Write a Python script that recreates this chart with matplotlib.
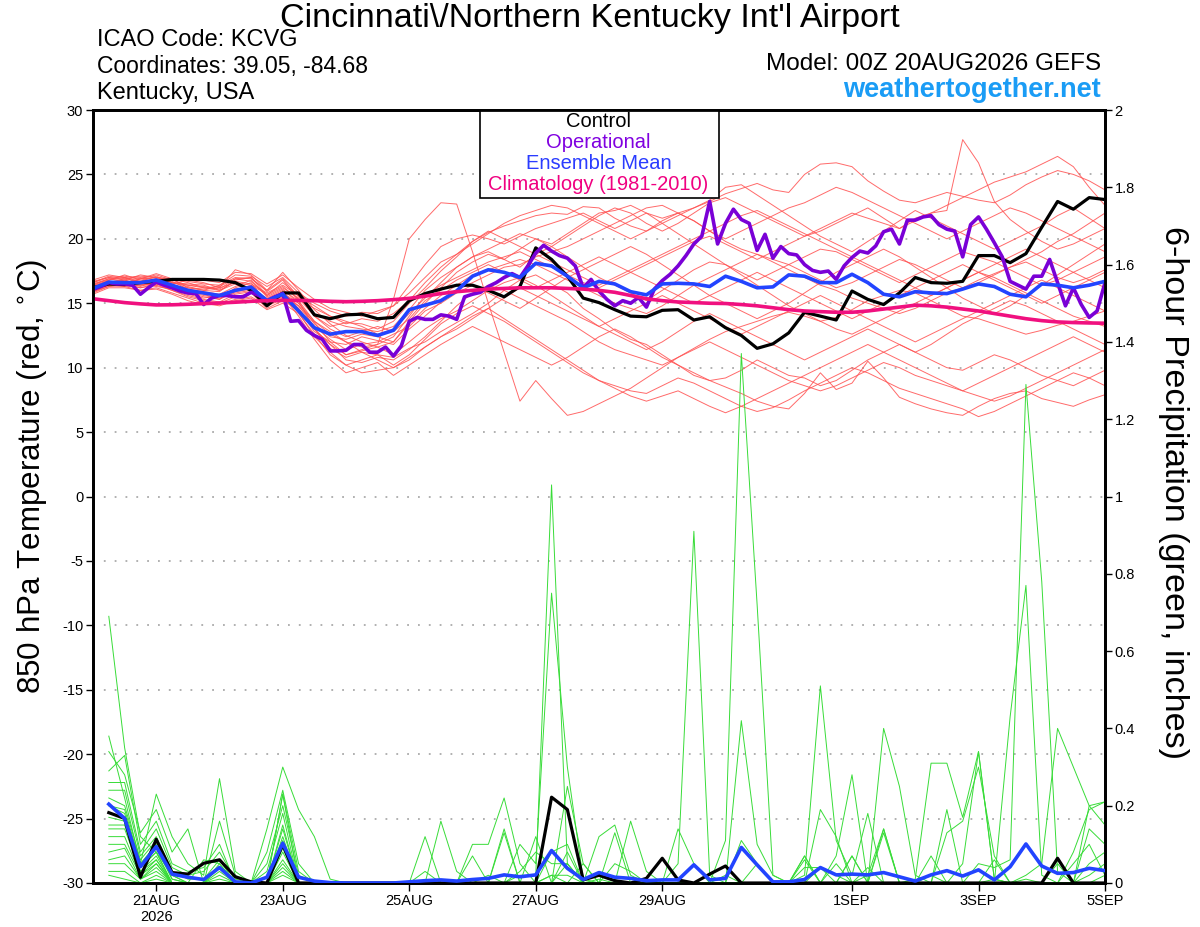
import pandas as pd
import matplotlib
matplotlib.use("Agg")
import matplotlib.pyplot as plt
from matplotlib.patches import Rectangle
from matplotlib.ticker import FuncFormatter

plt.rcParams['font.family'] = ['Liberation Sans', 'DejaVu Sans']
plt.rcParams['axes.unicode_minus'] = False

# forecast valid times: GEFS every 6h, operational every 3h, precip totals end at 06Z onward
times = pd.date_range('2026-08-20 00:00', periods=65, freq='6h')
times_oper = pd.date_range('2026-08-20 00:00', periods=129, freq='3h')
times_precip = times[1:]

tick_dates = pd.to_datetime(['2026-08-21', '2026-08-23', '2026-08-25', '2026-08-27',
                             '2026-08-29', '2026-09-01', '2026-09-03', '2026-09-05'])
tick_labels = ['21AUG\n2026', '23AUG', '25AUG', '27AUG', '29AUG', '1SEP', '3SEP', '5SEP']

# 850 hPa temperature (C)
control_temp = [16.2, 16.5, 16.45, 16.6, 16.7, 16.85, 16.85, 16.85, 16.8, 16.6, 16.0, 14.8, 15.8,
                15.8, 14.1, 13.8, 14.1, 14.15, 13.8, 13.9, 15.2,
                15.75, 16.1, 16.4, 16.4, 16.0, 15.5, 16.3, 19.3, 18.4, 17.1, 15.4, 15.05,
                14.5, 14.0, 13.95, 14.45, 14.5, 13.7, 13.95, 13.1, 12.5, 11.5, 11.85, 12.7,
                14.3, 14.0, 13.7, 15.95, 15.3, 14.9, 15.8, 17.0, 16.6, 16.55, 16.7, 18.7,
                18.7, 18.15, 18.85, 20.9, 22.9, 22.3, 23.2, 23.05]

mean_temp = [16.15, 16.64, 16.6, 16.6, 16.8, 16.4, 16.0, 15.8, 15.6, 16.0, 16.25, 15.2, 15.7,
             14.4, 13.1, 12.6, 12.8, 12.8, 12.5, 12.9, 14.5,
             14.85, 15.2, 15.96, 17.1, 17.6, 17.4, 17.0, 18.1, 17.9, 17.1, 16.2, 16.7,
             16.5, 15.9, 15.65, 16.5, 16.55, 16.5, 16.3, 17.1, 16.7, 16.2, 16.27, 17.2,
             17.1, 16.6, 16.6, 17.25, 16.6, 15.7, 15.5, 15.9, 15.8, 15.75, 16.1, 16.5,
             16.3, 15.7, 15.5, 16.5, 16.4, 16.2, 16.4, 16.7]

clim_temp = [15.35, 15.2, 15.05, 14.95, 14.87, 14.88, 14.92, 14.97, 15.02, 15.08, 15.15, 15.2, 15.22,
             15.22, 15.2, 15.15, 15.12, 15.15, 15.2, 15.28, 15.38,
             15.55, 15.75, 15.9, 16.0, 16.1, 16.15, 16.2, 16.2, 16.2, 16.15, 16.1, 16.0,
             15.85, 15.6, 15.35, 15.2, 15.1, 15.05, 15.0, 14.98, 14.9, 14.8, 14.65, 14.5,
             14.4, 14.35, 14.3, 14.3, 14.4, 14.55, 14.7, 14.85, 14.8, 14.7, 14.55, 14.4,
             14.2, 14.0, 13.8, 13.65, 13.55, 13.5, 13.47, 13.45]

oper_temp = [16.07, 16.3, 16.6, 16.5, 16.5, 16.4, 15.7, 16.2, 16.65, 16.4, 16.2, 15.95, 15.8,
             15.75, 14.9, 15.4, 15.6, 15.6, 15.5, 15.5, 15.85, 15.6, 15.2, 15.5, 15.75,
             13.6, 13.65, 12.9, 12.5, 12.2, 11.3, 11.3, 11.35, 11.8, 11.8, 11.2, 11.2,
             11.6, 10.9, 11.7, 13.6, 13.9, 13.75, 13.75, 14.1, 14.0, 13.75, 15.5, 15.7,
             15.85, 16.3, 16.6, 17.0, 17.3, 17.0, 17.9, 18.9, 19.5, 19.05, 18.7, 18.5,
             17.9, 16.2, 16.85, 15.95, 15.3, 14.8, 15.2, 15.0, 15.45, 14.7, 16.1, 16.75,
             17.25, 17.9, 18.7, 19.6, 20.2, 22.9, 19.6, 21.2, 22.3, 21.5, 21.2, 19.1,
             20.35, 18.5, 19.4, 18.85, 18.75, 18.0, 17.55, 17.4, 17.5, 16.85, 17.9, 18.55,
             19.05, 18.9, 19.45, 20.55, 20.75, 19.6, 21.45, 21.45, 21.7, 21.8, 21.1, 20.75,
             20.6, 18.6, 21.1, 21.7, 20.75, 19.7, 18.6, 16.7, 16.4, 16.1, 17.1, 17.1,
             18.4, 16.6, 14.8, 16.2, 14.9, 13.9, 14.4, 16.6]

member_temps = [
    [16.4, 16.9, 17.0, 16.7, 17.1, 16.6, 16.3, 16.0, 15.9, 16.8, 17.0, 15.6, 16.2,
     15.4, 14.0, 13.2, 13.5, 13.4, 13.0, 13.6, 15.0,
     16.2, 17.5, 18.6, 19.8, 20.5, 21.0, 21.4, 21.8, 22.0, 21.9, 22.5, 22.4,
     21.6, 21.0, 20.6, 21.2, 21.8, 22.4, 22.9, 23.5, 23.9, 24.3, 23.8, 23.6,
     25.0, 25.8, 25.9, 25.6, 24.5, 23.7, 23.0, 22.8, 23.2, 23.6, 23.3, 23.0,
     22.8, 23.4, 24.2, 24.8, 25.3, 25.0, 24.5, 23.8],
    [16.0, 16.5, 16.8, 16.4, 16.6, 16.2, 15.8, 15.5, 15.3, 16.2, 16.6, 15.0, 15.5,
     14.8, 13.5, 12.0, 11.0, 11.4, 11.8, 15.3, 20.0,
     21.5, 22.8, 22.7, 19.0, 15.0, 11.2, 7.4, 9.0, 7.6, 6.3, 6.6, 7.2,
     7.8, 8.4, 9.2, 10.0, 10.8, 11.5, 12.2, 12.8, 13.2, 13.6, 14.0, 14.3,
     14.0, 13.6, 13.9, 14.5, 15.2, 15.6, 16.0, 15.8, 15.2, 14.6, 14.0, 13.8,
     13.4, 13.0, 12.6, 12.9, 13.3, 13.6, 14.0, 14.4],
    [16.2, 16.7, 16.5, 16.9, 17.2, 16.8, 16.4, 16.2, 16.0, 16.5, 16.1, 15.4, 16.0,
     15.2, 13.0, 11.5, 10.8, 11.2, 11.0, 10.8, 11.5,
     12.0, 12.8, 13.5, 14.2, 15.0, 16.0, 16.8, 17.2, 16.5, 15.8, 14.6, 13.8,
     12.9, 12.2, 11.8, 11.0, 10.2, 9.6, 9.0, 8.5, 8.0, 7.4, 7.0, 6.8,
     8.0, 9.6, 8.3, 8.8, 10.5, 9.2, 7.7, 7.2, 6.8, 6.5, 6.3, 7.0,
     7.6, 8.0, 8.2, 7.6, 7.3, 7.0, 7.5, 7.9],
    [15.8, 16.3, 16.4, 16.2, 16.5, 16.0, 15.5, 15.2, 15.0, 15.5, 15.8, 14.6, 15.2,
     14.5, 12.8, 12.0, 11.8, 12.4, 12.1, 11.8, 13.0,
     14.0, 15.1, 16.0, 16.6, 17.2, 17.8, 18.0, 18.6, 19.0, 19.4, 20.0, 20.6,
     21.2, 21.8, 22.4, 22.6, 22.0, 21.4, 20.6, 19.8, 19.2, 18.8, 18.2, 17.6,
     17.0, 16.4, 16.0, 15.4, 15.0, 14.6, 14.2, 14.6, 15.2, 15.8, 16.2, 16.8,
     17.3, 17.8, 18.4, 19.0, 19.8, 20.4, 21.2, 22.0],
    [16.6, 17.1, 16.9, 17.0, 16.8, 16.5, 16.8, 16.6, 16.2, 17.6, 17.2, 16.0, 17.4,
     16.0, 14.5, 13.4, 12.5, 12.0, 11.6, 12.0, 13.6,
     15.0, 16.2, 17.4, 18.2, 18.8, 18.4, 17.8, 18.8, 19.4, 18.6, 17.8, 17.0,
     16.4, 15.8, 15.2, 16.0, 16.8, 17.6, 18.2, 18.0, 17.4, 16.8, 17.4, 18.0,
     18.6, 19.2, 19.0, 18.4, 17.8, 17.2, 16.6, 17.2, 17.8, 18.4, 19.0, 18.6,
     18.2, 17.6, 17.0, 16.4, 16.8, 17.4, 18.0, 18.6],
    [16.1, 16.6, 16.8, 16.5, 16.3, 16.1, 15.7, 15.4, 15.6, 16.0, 16.4, 14.9, 15.6,
     14.0, 12.2, 10.6, 9.6, 10.0, 10.4, 9.4, 10.2,
     11.0, 11.8, 12.5, 13.2, 12.6, 12.0, 11.4, 10.8, 10.2, 10.8, 11.6, 12.4,
     13.0, 12.4, 11.6, 10.8, 10.2, 9.4, 9.0, 9.2, 9.8, 10.6, 10.0, 9.4,
     9.2, 8.6, 9.0, 9.8, 10.6, 11.2, 11.8, 11.2, 10.6, 10.0, 9.8, 10.4,
     11.0, 10.6, 10.0, 9.4, 9.0, 8.6, 9.2, 9.8],
    [16.3, 16.8, 17.2, 16.8, 17.0, 16.6, 16.5, 16.4, 16.0, 16.7, 16.5, 15.8, 16.4,
     15.6, 14.2, 13.6, 13.2, 13.0, 12.8, 13.2, 14.5,
     16.0, 17.0, 17.8, 18.6, 19.2, 19.8, 20.4, 20.0, 19.4, 20.2, 21.0, 21.8,
     22.4, 22.0, 21.2, 20.6, 21.2, 22.0, 22.8, 23.2, 22.6, 22.0, 21.4, 20.8,
     20.2, 20.6, 21.2, 21.8, 22.4, 21.6, 20.8, 21.4, 22.0, 22.6, 23.2, 23.8,
     24.4, 24.8, 25.2, 25.8, 26.4, 25.6, 24.0, 22.6],
    [16.5, 16.9, 16.7, 16.6, 16.4, 16.9, 16.6, 16.2, 16.3, 16.9, 17.0, 15.9, 16.8,
     15.2, 13.6, 12.6, 12.0, 11.6, 11.8, 12.4, 14.0,
     15.6, 16.4, 17.0, 17.6, 18.2, 18.6, 19.0, 18.4, 17.8, 17.2, 16.6, 16.2,
     16.8, 17.4, 18.0, 18.6, 19.2, 19.8, 20.2, 19.6, 19.0, 18.4, 19.0, 19.6,
     20.2, 20.8, 21.4, 22.0, 21.6, 21.2, 20.8, 21.6, 22.0, 22.2, 27.7, 25.9,
     22.9, 21.5, 20.6, 19.8, 19.2, 19.6, 20.2, 20.8],
    [15.9, 16.4, 16.3, 16.0, 16.2, 15.8, 15.4, 15.0, 14.8, 15.2, 15.4, 14.5, 15.0,
     14.2, 12.6, 11.0, 10.2, 10.6, 11.0, 10.2, 11.0,
     12.2, 13.4, 14.2, 14.8, 14.2, 13.6, 12.8, 12.0, 11.2, 10.4, 9.6, 9.0,
     8.6, 8.2, 8.0, 8.6, 9.2, 8.8, 8.2, 7.6, 7.0, 6.6, 6.9, 7.5,
     8.2, 8.8, 9.4, 10.0, 9.6, 9.0, 8.4, 8.0, 7.6, 7.2, 6.8, 6.2,
     6.6, 7.2, 7.8, 8.4, 9.0, 9.6, 9.2, 8.6],
    [16.2, 16.5, 16.6, 16.9, 17.0, 16.7, 16.1, 15.9, 15.7, 16.3, 16.8, 15.5, 16.1,
     15.0, 13.4, 12.4, 12.2, 12.6, 12.4, 12.0, 13.4,
     14.6, 15.6, 16.4, 17.2, 17.6, 18.0, 18.4, 18.0, 17.4, 16.8, 16.2, 15.6,
     15.0, 14.6, 14.2, 14.8, 15.6, 16.4, 17.0, 17.6, 18.2, 18.8, 18.4, 18.0,
     17.4, 16.8, 16.2, 16.6, 17.2, 17.8, 18.4, 18.0, 17.4, 16.8, 16.2, 16.6,
     17.2, 17.8, 18.2, 17.6, 17.0, 16.6, 17.0, 17.6],
    [16.7, 17.0, 17.1, 16.9, 17.3, 16.9, 16.7, 16.5, 16.4, 17.2, 17.1, 16.3, 17.0,
     15.8, 15.0, 14.4, 14.0, 14.3, 14.2, 14.8, 16.4,
     18.0, 19.4, 20.0, 20.3, 20.0, 19.6, 20.2, 20.8, 21.2, 21.6, 22.0, 21.4,
     20.8, 21.4, 22.0, 21.2, 20.4, 19.6, 18.8, 18.0, 17.2, 16.4, 15.6, 14.8,
     14.2, 13.6, 13.0, 12.6, 13.2, 13.8, 14.4, 15.0, 15.6, 16.2, 16.8, 17.4,
     17.0, 16.4, 15.8, 15.2, 14.6, 14.0, 13.6, 13.2],
    [15.7, 16.2, 16.2, 16.0, 16.1, 15.7, 15.2, 14.9, 14.9, 15.3, 15.5, 14.8, 15.3,
     14.6, 13.0, 11.8, 11.0, 11.3, 11.6, 11.0, 12.0,
     13.0, 13.8, 14.4, 15.2, 16.0, 16.6, 17.0, 16.4, 15.6, 14.8, 14.0, 13.2,
     12.6, 12.0, 11.4, 12.0, 12.8, 13.6, 14.2, 13.6, 13.0, 12.4, 11.8, 11.2,
     10.6, 11.2, 11.8, 12.4, 13.0, 12.4, 11.8, 11.2, 11.8, 12.6, 13.4, 14.0,
     14.6, 15.2, 14.8, 14.2, 13.6, 13.0, 12.4, 11.8],
    [16.4, 16.7, 16.5, 16.6, 16.9, 16.4, 16.2, 16.1, 16.2, 16.6, 16.4, 15.7, 16.3,
     15.3, 14.6, 14.0, 13.6, 13.2, 12.6, 13.0, 14.2,
     15.4, 16.6, 17.8, 18.6, 19.0, 18.4, 19.2, 20.0, 19.6, 20.4, 21.2, 22.0,
     22.2, 22.6, 22.0, 21.6, 22.0, 22.4, 23.0, 24.0, 24.2, 23.4, 22.6, 21.8,
     21.0, 20.2, 19.6, 19.0, 19.8, 20.6, 21.4, 22.2, 21.6, 21.0, 20.4, 19.8,
     19.2, 19.8, 20.4, 21.0, 21.8, 22.4, 21.6, 20.8],
    [16.0, 16.4, 16.6, 16.3, 16.7, 16.3, 15.9, 15.6, 15.4, 15.8, 16.0, 15.1, 15.8,
     14.8, 13.2, 12.2, 11.4, 11.8, 12.0, 12.6, 13.2,
     14.4, 15.0, 15.8, 16.4, 15.8, 15.2, 14.6, 15.4, 16.2, 17.0, 17.6, 18.2,
     18.8, 19.4, 18.8, 18.0, 17.2, 16.4, 15.6, 15.0, 14.4, 13.8, 14.4, 15.0,
     15.8, 16.6, 17.4, 18.0, 18.6, 19.2, 18.6, 17.8, 17.0, 16.2, 15.4, 14.8,
     14.2, 14.8, 15.6, 16.4, 17.2, 18.0, 18.8, 19.6],
    [16.3, 16.6, 16.9, 16.7, 16.6, 16.4, 16.0, 15.8, 15.5, 16.1, 16.2, 15.3, 15.9,
     14.6, 13.0, 11.8, 10.6, 10.4, 10.8, 10.6, 11.4,
     12.4, 13.6, 14.8, 15.8, 16.4, 16.0, 15.4, 14.8, 14.2, 13.6, 12.8, 12.0,
     11.4, 11.0, 10.6, 10.2, 10.8, 11.4, 12.0, 11.4, 10.8, 10.2, 9.6, 9.0,
     8.6, 8.2, 8.6, 9.2, 9.8, 10.4, 10.0, 9.4, 9.0, 8.6, 8.2, 7.8,
     7.4, 7.8, 8.4, 9.0, 9.6, 10.2, 10.8, 11.4],
    [16.8, 17.2, 17.0, 17.1, 17.0, 16.8, 16.9, 16.8, 16.6, 17.4, 17.3, 16.5, 17.2,
     16.2, 15.3, 14.6, 14.3, 14.0, 14.4, 14.8, 15.8,
     17.0, 18.2, 18.8, 19.6, 20.4, 21.2, 21.8, 22.2, 22.6, 22.4, 21.8, 21.2,
     20.6, 20.0, 20.6, 21.4, 22.0, 21.4, 20.6, 20.0, 20.6, 21.2, 21.8, 22.4,
     22.8, 23.4, 24.0, 23.6, 23.0, 22.4, 21.8, 21.2, 20.6, 20.0, 20.6, 21.2,
     21.8, 22.4, 22.0, 21.4, 20.8, 20.2, 19.6, 19.0],
    [15.9, 16.3, 16.5, 16.2, 16.4, 16.0, 15.6, 15.3, 15.1, 15.7, 15.9, 14.9, 15.4,
     14.3, 12.4, 11.2, 10.2, 9.6, 9.8, 10.0, 10.6,
     11.6, 12.4, 13.0, 13.8, 14.6, 15.4, 16.2, 15.6, 15.0, 14.4, 13.8, 13.2,
     13.8, 14.4, 15.0, 15.6, 15.0, 14.4, 13.8, 13.2, 12.6, 13.2, 13.8, 14.4,
     15.0, 15.6, 15.0, 14.4, 13.8, 13.2, 12.6, 12.0, 12.6, 13.2, 13.8, 14.4,
     15.0, 15.6, 16.2, 16.8, 16.2, 15.6, 15.0, 14.4],
    [16.5, 16.8, 17.0, 16.5, 16.9, 16.6, 16.4, 16.3, 16.1, 16.9, 16.7, 15.6, 16.6,
     15.6, 14.0, 13.0, 12.4, 12.8, 13.2, 12.8, 13.8,
     15.2, 16.0, 16.8, 17.4, 18.0, 17.4, 16.8, 16.2, 16.8, 17.4, 18.0, 18.6,
     18.0, 17.4, 16.8, 16.2, 15.6, 15.0, 15.6, 16.2, 16.8, 17.4, 16.8, 16.2,
     15.6, 15.0, 14.4, 13.8, 14.4, 15.0, 15.6, 16.2, 16.8, 17.4, 18.0, 17.4,
     16.8, 16.2, 15.6, 15.0, 15.6, 16.2, 16.8, 17.4],
    [16.1, 16.4, 16.3, 16.4, 16.5, 16.2, 15.9, 15.7, 15.3, 15.9, 16.1, 15.0, 15.8,
     15.0, 13.6, 12.8, 12.0, 11.2, 10.6, 10.0, 10.8,
     11.6, 12.4, 13.2, 14.0, 14.6, 13.8, 13.0, 12.2, 11.4, 10.6, 9.8, 9.0,
     8.4, 7.8, 7.4, 7.8, 8.2, 7.6, 7.0, 6.5, 7.0, 7.6, 8.2, 8.8,
     9.4, 10.0, 10.6, 11.2, 11.8, 11.2, 10.6, 10.0, 9.4, 8.8, 8.2, 8.8,
     9.4, 10.0, 10.6, 11.2, 11.8, 12.4, 11.8, 11.2],
    [16.6, 17.0, 16.8, 17.2, 17.0, 16.9, 16.2, 16.0, 16.4, 17.0, 16.9, 16.0, 16.9,
     15.5, 14.8, 14.0, 13.4, 13.8, 13.6, 14.2, 15.2,
     16.6, 17.8, 18.8, 19.8, 20.6, 20.0, 19.4, 18.8, 18.2, 17.6, 17.0, 16.4,
     17.0, 17.6, 18.2, 18.8, 19.4, 20.0, 20.6, 21.2, 21.8, 22.2, 21.6, 21.0,
     20.4, 19.8, 19.2, 18.6, 18.0, 17.4, 16.8, 16.2, 15.6, 16.2, 16.8, 17.4,
     18.0, 18.6, 19.2, 18.6, 18.0, 17.4, 16.8, 16.2],
]

# 6-hour precipitation (inches), periods ending 20AUG 06Z .. 5SEP 00Z
control_precip = [0.182, 0.167, 0.015, 0.113, 0.027, 0.023, 0.051, 0.06, 0.016, 0.003, 0.0, 0.10,
                  0.0, 0.0, 0.0, 0.0, 0.0, 0.0, 0.0, 0.0, 0.0, 0.0, 0.0, 0.0,
                  0.0, 0.0, 0.0, 0.0, 0.222, 0.19, 0.008, 0.02, 0.006, 0.0, 0.012, 0.064,
                  0.008, 0.0, 0.023, 0.044, 0.0, 0.0, 0.0, 0.0, 0.0, 0.0, 0.0, 0.0,
                  0.0, 0.0, 0.0, 0.0, 0.0, 0.0, 0.0, 0.0, 0.0, 0.0, 0.0, 0.0,
                  0.064, 0.0, 0.0, 0.0]

mean_precip = [0.204, 0.167, 0.042, 0.094, 0.023, 0.015, 0.009, 0.04, 0.003, 0.0, 0.015, 0.103,
               0.015, 0.005, 0.001, 0.0, 0.0, 0.0, 0.0, 0.003, 0.006, 0.008, 0.005, 0.009,
               0.012, 0.021, 0.016, 0.021, 0.084, 0.038, 0.009, 0.027, 0.015, 0.012, 0.006, 0.008,
               0.008, 0.047, 0.008, 0.012, 0.092, 0.047, 0.003, 0.003, 0.009, 0.04, 0.021, 0.023,
               0.021, 0.027, 0.016, 0.005, 0.021, 0.032, 0.018, 0.034, 0.008, 0.042, 0.101, 0.044,
               0.025, 0.027, 0.038, 0.032]

member_precips = [
    [.69, .35, .12, .08, .02, 0, 0, .05, 0, 0, 0, .10, 0, 0, 0, 0,
     0, 0, 0, 0, 0, 0, 0, 0, 0, 0, .02, .02, 1.03, .05, 0, .01,
     0, 0, 0, 0, 0, 0, 0, .02, 0, 0, 0, 0, 0, .04, .02, 0,
     0, 0, 0, 0, .07, 0, 0, .05, .04, .06, 1.29, .78, .03, 0, .02, .05],
    [.38, .22, .05, .23, .12, .05, .02, .27, .03, 0, .14, .30, .19, .12, .01, 0,
     0, 0, 0, 0, 0, .16, .03, 0, 0, 0, 0, 0, .02, .02, 0, 0,
     0, 0, 0, 0, .14, .05, 0, .11, 1.37, .72, .02, 0, 0, 0, 0, .07,
     0, 0, 0, 0, 0, 0, 0, 0, 0, 0, .01, 0, 0, 0, 0, 0],
    [.34, .28, .13, .19, .08, .14, 0, .16, .02, 0, .08, .24, .05, 0, 0, 0,
     0, 0, 0, 0, .12, 0, 0, .10, .10, .22, .05, 0, .08, .10, 0, .12,
     .15, .02, 0, 0, .05, .91, .02, 0, 0, 0, 0, 0, .07, 0, 0, 0,
     0, .14, 0, 0, 0, .19, 0, 0, 0, 0, 0, 0, 0, 0, .20, .21],
    [.29, .33, .10, .16, .05, .03, .04, .10, 0, 0, 0, .23, .03, 0, 0, 0,
     0, 0, 0, 0, 0, 0, 0, 0, 0, .13, 0, 0, 0, .25, .05, 0,
     0, 0, 0, 0, 0, 0, 0, 0, .11, .05, 0, 0, .02, .51, .11, .02,
     .18, 0, 0, 0, 0, 0, 0, 0, 0, .43, .77, .02, 0, 0, 0, .02],
    [.26, .26, .08, .14, .04, .02, .03, .08, .01, 0, .05, .20, .02, 0, 0, 0,
     0, 0, 0, 0, 0, 0, 0, 0, 0, 0, .10, .05, .75, .30, .01, 0,
     0, 0, 0, 0, 0, 0, 0, 0, 0, 0, 0, 0, 0, 0, .05, 0,
     0, .40, .25, .02, 0, 0, 0, 0, .01, 0, 0, 0, .05, 0, 0, 0],
    [.24, .24, .07, .12, .03, .01, .01, .06, 0, 0, .03, .18, 0, 0, 0, 0,
     0, 0, 0, 0, 0, 0, 0, 0, .02, 0, .03, .08, .05, .05, 0, 0,
     0, .16, .03, 0, 0, 0, 0, 0, .42, .10, .02, 0, 0, 0, 0, 0,
     0, 0, 0, 0, .02, 0, .05, .34, .01, 0, 0, 0, 0, .05, .10, .02],
    [.22, .20, .06, .11, .02, 0, .06, .05, 0, 0, 0, .15, 0, 0, 0, 0,
     0, 0, 0, 0, 0, 0, 0, 0, 0, 0, 0, .12, 0, .05, 0, 0,
     .05, .03, 0, 0, 0, 0, 0, 0, 0, 0, 0, 0, 0, 0, .07, .28,
     0, 0, 0, 0, 0, 0, 0, 0, 0, 0, .02, .05, .40, .30, .20, .15],
    [.20, .19, .05, .10, .01, 0, 0, .04, 0, 0, 0, .14, 0, 0, 0, 0,
     0, 0, 0, 0, .03, 0, 0, 0, 0, 0, 0, 0, .02, 0, 0, 0,
     .13, 0, 0, 0, 0, 0, 0, 0, 0, 0, 0, 0, .04, .04, 0, 0,
     0, 0, 0, .01, .31, .31, .17, .34, .01, 0, 0, 0, 0, .08, .19, .21],
    [.20, .18, .05, .09, .01, 0, 0, .03, 0, 0, 0, .23, 0, 0, 0, 0,
     0, 0, 0, 0, 0, 0, 0, 0, 0, .14, 0, 0, 0, .08, 0, 0,
     0, 0, 0, 0, 0, 0, 0, 0, 0, 0, 0, 0, 0, 0, 0, 0,
     0, 0, 0, 0, 0, .13, .16, .30, .07, 0, 0, 0, 0, 0, 0, 0],
    [.18, .17, .04, .08, 0, 0, 0, .02, 0, 0, 0, .12, 0, 0, 0, 0,
     0, 0, 0, 0, 0, 0, 0, 0, 0, 0, 0, 0, 0, 0, 0, 0,
     0, 0, 0, 0, 0, 0, 0, 0, 0, 0, 0, 0, 0, .19, .12, 0,
     .02, .14, 0, 0, 0, 0, 0, 0, 0, 0, 0, 0, 0, 0, .14, .10],
    [.17, .16, .04, .08, 0, 0, 0, .01, 0, 0, 0, .11, 0, 0, 0, 0,
     0, 0, 0, 0, 0, 0, 0, .07, 0, 0, 0, 0, 0, 0, .05, 0,
     0, 0, 0, 0, 0, 0, 0, 0, 0, 0, 0, 0, 0, 0, 0, .07,
     0, .13, 0, 0, 0, 0, 0, 0, 0, 0, 0, 0, 0, 0, 0, 0],
    [.15, .15, .03, .07, 0, 0, 0, 0, 0, 0, 0, .09, 0, 0, 0, 0,
     0, 0, 0, 0, 0, 0, 0, 0, 0, 0, 0, 0, 0, 0, 0, 0,
     0, 0, 0, 0, 0, 0, 0, 0, 0, 0, 0, 0, 0, 0, 0, 0,
     0, 0, 0, 0, 0, 0, 0, 0, .06, 0, 0, 0, 0, 0, 0, 0],
    [.14, .14, .03, .06, 0, 0, 0, 0, 0, 0, 0, .08, 0, 0, 0, 0,
     0, 0, 0, 0, 0, 0, 0, 0, 0, 0, 0, 0, 0, 0, 0, 0,
     0, 0, 0, 0, 0, 0, 0, 0, 0, .05, 0, 0, .07, 0, 0, 0,
     0, 0, 0, 0, 0, 0, 0, 0, 0, 0, 0, 0, 0, 0, .05, .08],
    [.12, .12, .02, .06, 0, 0, 0, 0, 0, 0, 0, .06, 0, 0, 0, 0,
     0, 0, 0, 0, 0, 0, 0, 0, 0, 0, 0, 0, 0, 0, 0, 0,
     0, 0, 0, 0, 0, 0, 0, 0, 0, 0, 0, 0, 0, 0, 0, 0,
     0, 0, 0, 0, 0, 0, 0, 0, 0, 0, 0, 0, 0, 0, 0, 0],
    [.10, .10, .02, .05, 0, 0, 0, 0, 0, 0, 0, .05, 0, 0, 0, 0,
     0, 0, 0, 0, 0, 0, 0, 0, 0, 0, 0, 0, 0, 0, 0, 0,
     0, 0, 0, 0, 0, 0, 0, 0, 0, 0, 0, 0, .06, 0, 0, 0,
     0, 0, 0, 0, 0, 0, 0, 0, 0, 0, 0, 0, 0, 0, 0, 0],
    [.08, .09, .01, .05, 0, 0, 0, 0, 0, 0, 0, .04, 0, 0, 0, 0,
     0, 0, 0, 0, 0, 0, 0, 0, 0, 0, 0, 0, 0, 0, 0, 0,
     0, 0, 0, 0, 0, 0, 0, 0, 0, 0, 0, 0, 0, 0, 0, 0,
     .04, 0, 0, 0, 0, 0, 0, 0, 0, 0, 0, 0, 0, 0, 0, 0],
    [.06, .07, .01, .04, 0, 0, 0, 0, 0, 0, 0, .03, 0, 0, 0, 0,
     0, 0, 0, 0, 0, 0, 0, 0, 0, 0, 0, 0, 0, 0, 0, 0,
     0, 0, 0, 0, 0, 0, 0, 0, 0, 0, 0, 0, 0, 0, 0, 0,
     0, 0, 0, 0, 0, 0, 0, 0, 0, 0, 0, 0, 0, 0, 0, 0],
    [.05, .05, .01, .03, 0, 0, 0, 0, 0, 0, 0, .02, 0, 0, 0, 0,
     0, 0, 0, 0, 0, 0, 0, 0, 0, 0, 0, 0, 0, 0, 0, 0,
     0, 0, 0, 0, 0, 0, 0, 0, 0, 0, 0, 0, 0, 0, 0, 0,
     0, 0, 0, 0, 0, 0, 0, 0, 0, 0, 0, 0, 0, 0, 0, 0],
    [.03, .03, 0, .02, 0, 0, 0, 0, 0, 0, 0, 0, 0, 0, 0, 0,
     0, 0, 0, 0, 0, 0, 0, 0, 0, 0, 0, 0, 0, 0, 0, 0,
     0, 0, 0, 0, 0, 0, 0, 0, 0, 0, 0, 0, 0, 0, 0, 0,
     0, 0, 0, 0, 0, 0, 0, 0, 0, 0, 0, 0, 0, 0, 0, 0],
    [.02, .01, 0, .01, 0, 0, 0, 0, 0, 0, 0, 0, 0, 0, 0, 0,
     0, 0, 0, 0, 0, 0, 0, 0, 0, 0, 0, 0, 0, 0, 0, 0,
     0, 0, 0, 0, 0, 0, 0, 0, 0, 0, 0, 0, 0, 0, 0, 0,
     0, 0, 0, 0, 0, 0, 0, 0, 0, 0, 0, 0, 0, 0, 0, 0],
]

# colours
RED = '#ff5050'
GREEN = '#38dc38'
PURPLE = '#7a00d6'
BLUE = '#2244ff'
CLIM = '#f0107f'

fig = plt.figure(figsize=(12, 9.27), dpi=100)
ax = fig.add_axes([93 / 1200, 1 - 883 / 927, 1012 / 1200, 773 / 927])

# temperature members, then the headline series on top
for m in member_temps:
    ax.plot(times, m, color=RED, lw=0.7, alpha=0.85, zorder=2)
ax.plot(times, control_temp, color='black', lw=2.3, zorder=4)
ax.plot(times_oper, oper_temp, color=PURPLE, lw=2.6, zorder=5)
ax.plot(times, mean_temp, color=BLUE, lw=2.6, zorder=6)
ax.plot(times, clim_temp, color=CLIM, lw=2.6, zorder=7)

ax.set_ylim(-30, 30)
ax.set_yticks(range(-30, 31, 5))
ax.set_xlim(times[0], times[-1])
ax.set_xticks(tick_dates)
ax.set_xticklabels(tick_labels)
ax.grid(axis='y', color='#aaaaaa', lw=1.3, ls=(0, (1, 5)))
ax.tick_params(axis='y', direction='out', length=5, width=1, labelsize=10.5, pad=2)
ax.tick_params(axis='x', direction='out', length=6, width=1, labelsize=10.5, pad=2)
for s in ax.spines.values():
    s.set_linewidth(2.0)

# precipitation on the right axis
ax2 = ax.twinx()
for m in member_precips:
    ax2.plot(times_precip, m, color=GREEN, lw=0.7, zorder=2)
ax2.plot(times_precip, control_precip, color='black', lw=2.3, zorder=4)
ax2.plot(times_precip, mean_precip, color=BLUE, lw=2.6, zorder=5)
ax2.set_ylim(0, 2)
ax2.set_yticks([0, 0.2, 0.4, 0.6, 0.8, 1.0, 1.2, 1.4, 1.6, 1.8, 2.0])
ax2.yaxis.set_major_formatter(FuncFormatter(lambda v, p: '%g' % round(v, 1)))
ax2.tick_params(axis='y', direction='out', length=5, width=1, labelsize=10.5, pad=2)
for s in ax2.spines.values():
    s.set_linewidth(2.0)

# legend box at the top centre
ax.add_patch(Rectangle((0.3824, 0.886), 0.2362, 0.114, transform=ax.transAxes,
                       facecolor='white', edgecolor='black', lw=1.2, zorder=10))
legend_items = [('Control', 'black', 0.9845), ('Operational', '#8000e0', 0.9586),
                ('Ensemble Mean', '#2a3cff', 0.9314), ('Climatology (1981-2010)', '#f00080', 0.903)]
for txt, col, yy in legend_items:
    ax.text(0.4995, yy, txt, color=col, fontsize=14.5, ha='center', va='center',
            transform=ax.transAxes, zorder=11)

# header text
fig.text(590 / 1200, 1 - 18 / 927, "Cincinnati\\/Northern Kentucky Int'l Airport",
         fontsize=24.5, ha='center', va='center')
fig.text(97 / 1200, 1 - 40 / 927, 'ICAO Code: KCVG', fontsize=17, ha='left', va='center')
fig.text(97 / 1200, 1 - 66 / 927, 'Coordinates: 39.05, -84.68', fontsize=16.5, ha='left', va='center')
fig.text(97 / 1200, 1 - 93 / 927, 'Kentucky, USA', fontsize=17, ha='left', va='center')
fig.text(1101 / 1200, 1 - 64 / 927, 'Model: 00Z 20AUG2026 GEFS', fontsize=17.5, ha='right', va='center')
fig.text(1101 / 1200, 1 - 90 / 927, 'weathertogether.net', fontsize=19.5, fontweight='bold',
         color='#1a9cf5', ha='right', va='center')

fig.text(32 / 1200, 1 - 476 / 927, '850 hPa Temperature (red, $^{\\circ}$C)', fontsize=22.6,
         rotation=90, ha='center', va='center')
fig.text(1173 / 1200, 1 - 493 / 927, '6-hour Precipitation (green, inches)', fontsize=24.6,
         rotation=270, ha='center', va='center')

fig.savefig('out.png', dpi=100)
